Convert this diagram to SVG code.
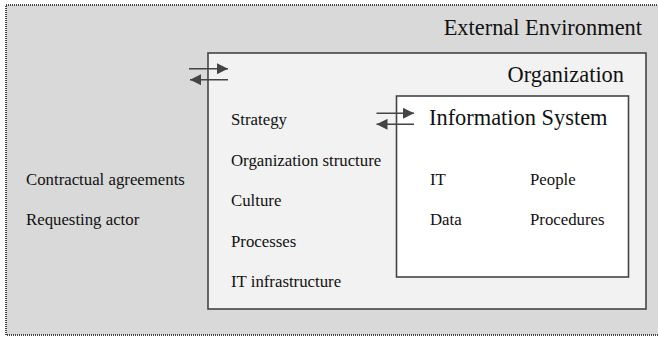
<svg xmlns="http://www.w3.org/2000/svg" width="658" height="339" viewBox="0 0 658 339">
  <style>
    text { fill: #111; }
    .big { font-size: 22.4px; }
    .small { font-size: 16.8px; }
    .box { stroke: #444; stroke-width: 1.6; }
    .arrow { stroke: #444; stroke-width: 1.5; fill: none; marker-end: url(#head); }
  </style>
  <defs>
    <marker id="head" viewBox="0 0 10 10" refX="10" refY="5" markerWidth="12" markerHeight="11" markerUnits="userSpaceOnUse" orient="auto">
      <path d="M0,0 L10,5 L0,10 Z" fill="#444"/>
    </marker>
  </defs>

  <g font-family="'Liberation Serif', 'DejaVu Serif', serif">
  <!-- outermost layer -->
  <g id="external">
    <rect x="6" y="5" width="660" height="330" fill="#d9d9d9" stroke="#444" stroke-width="2" stroke-dasharray="1 1"/>
    <text class="big" x="642" y="35" text-anchor="end">External Environment</text>
    <text class="small" x="26" y="185">Contractual agreements</text>
    <text class="small" x="26" y="225">Requesting actor</text>
  </g>

  <!-- middle layer -->
  <g id="organization">
    <rect class="box" x="208" y="53" width="438" height="256" fill="#f2f2f2"/>
    <text class="big" x="624" y="82" text-anchor="end">Organization</text>
    <text class="small" x="231" y="125">Strategy</text>
    <text class="small" x="231" y="166">Organization structure</text>
    <text class="small" x="231" y="206">Culture</text>
    <text class="small" x="231" y="246.5">Processes</text>
    <text class="small" x="231" y="287">IT infrastructure</text>
  </g>

  <!-- inner layer -->
  <g id="information-system">
    <rect class="box" x="396.5" y="96" width="232" height="181" fill="#ffffff"/>
    <text class="big" x="429" y="125">Information System</text>
    <text class="small" x="430" y="185">IT</text>
    <text class="small" x="530" y="185">People</text>
    <text class="small" x="430" y="224.5">Data</text>
    <text class="small" x="530" y="224.5">Procedures</text>
  </g>

  <!-- exchange arrows between layers -->
  <g id="connectors">
    <line class="arrow" x1="189" y1="68.7" x2="228" y2="68.7"/>
    <line class="arrow" x1="228" y1="79.7" x2="190" y2="79.7"/>
    <line class="arrow" x1="376.5" y1="113.3" x2="414" y2="113.3"/>
    <line class="arrow" x1="414" y1="124.3" x2="376.5" y2="124.3"/>
  </g>
  </g>
</svg>
